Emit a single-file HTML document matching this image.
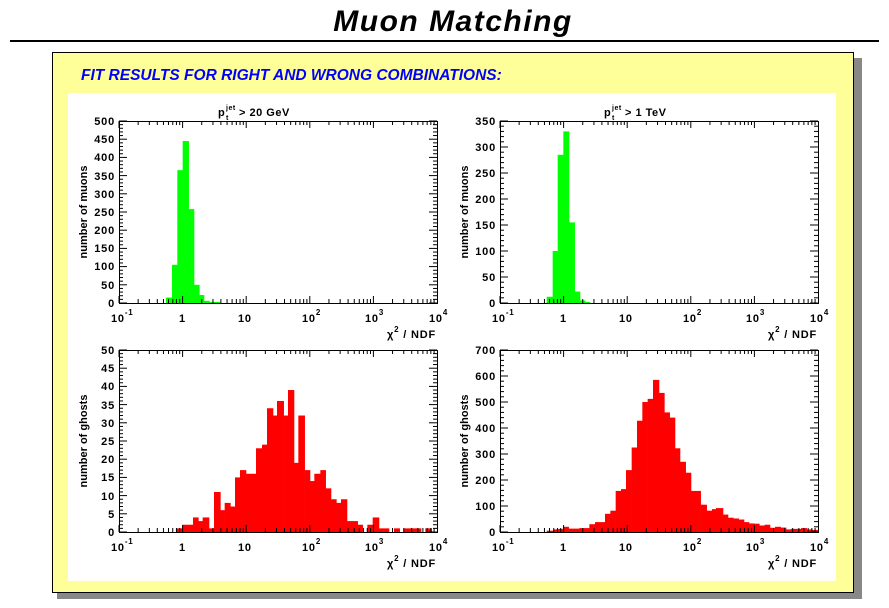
<!DOCTYPE html>
<html><head><meta charset="utf-8">
<style>
body{margin:0;width:889px;height:608px;background:#fff;overflow:hidden;font-family:"Liberation Sans",sans-serif}
svg{position:absolute;left:0;top:0}
</style></head><body>
<svg id="s" width="889" height="608" xmlns="http://www.w3.org/2000/svg" font-family="Liberation Sans, sans-serif" font-weight="bold">
<text x="453" y="31" text-anchor="middle" font-size="30" font-style="italic" letter-spacing="1.5">Muon Matching</text>
<rect x="10" y="40" width="869" height="2" fill="#000"/>
<rect x="57" y="58" width="805" height="541" fill="#888"/>
<rect x="52.5" y="52.5" width="801" height="540" fill="#ffff99" stroke="#000"/>
<text x="81" y="80" font-size="15.5" font-style="italic" fill="#0000ff">FIT RESULTS FOR RIGHT AND WRONG COMBINATIONS:</text>
<rect x="68" y="93" width="768" height="488" fill="#fff"/>
<g id="plots"></g>
<g font-size="11" text-anchor="end" letter-spacing="0.8">
<text x="115" y="125">500</text><text x="115" y="143">450</text><text x="115" y="161">400</text><text x="115" y="180">350</text><text x="115" y="198">300</text><text x="115" y="216">250</text><text x="115" y="234">200</text><text x="115" y="252">150</text><text x="115" y="270">100</text><text x="115" y="289">50</text><text x="115" y="307">0</text>
<text x="496" y="125">350</text><text x="496" y="151">300</text><text x="496" y="177">250</text><text x="496" y="203">200</text><text x="496" y="229">150</text><text x="496" y="255">100</text><text x="496" y="281">50</text><text x="496" y="307">0</text>
<text x="115" y="354">50</text><text x="115" y="372">45</text><text x="115" y="390">40</text><text x="115" y="409">35</text><text x="115" y="427">30</text><text x="115" y="445">25</text><text x="115" y="463">20</text><text x="115" y="481">15</text><text x="115" y="500">10</text><text x="115" y="518">5</text><text x="115" y="536">0</text>
<text x="496" y="354">700</text><text x="496" y="380">600</text><text x="496" y="406">500</text><text x="496" y="432">400</text><text x="496" y="458">300</text><text x="496" y="484">200</text><text x="496" y="510">100</text><text x="496" y="536">0</text>
</g>
<g font-size="11" letter-spacing="0.8">
<text x="111" y="322">10<tspan font-size="8" dy="-7">-1</tspan></text><text x="179" y="322">1</text><text x="238" y="322">10</text><text x="302" y="322">10<tspan font-size="8" dy="-7">2</tspan></text><text x="365" y="322">10<tspan font-size="8" dy="-7">3</tspan></text><text x="429" y="322">10<tspan font-size="8" dy="-7">4</tspan></text>
<text x="492" y="322">10<tspan font-size="8" dy="-7">-1</tspan></text><text x="560" y="322">1</text><text x="619" y="322">10</text><text x="683" y="322">10<tspan font-size="8" dy="-7">2</tspan></text><text x="746" y="322">10<tspan font-size="8" dy="-7">3</tspan></text><text x="810" y="322">10<tspan font-size="8" dy="-7">4</tspan></text>
<text x="111" y="551">10<tspan font-size="8" dy="-7">-1</tspan></text><text x="179" y="551">1</text><text x="238" y="551">10</text><text x="302" y="551">10<tspan font-size="8" dy="-7">2</tspan></text><text x="365" y="551">10<tspan font-size="8" dy="-7">3</tspan></text><text x="429" y="551">10<tspan font-size="8" dy="-7">4</tspan></text>
<text x="492" y="551">10<tspan font-size="8" dy="-7">-1</tspan></text><text x="560" y="551">1</text><text x="619" y="551">10</text><text x="683" y="551">10<tspan font-size="8" dy="-7">2</tspan></text><text x="746" y="551">10<tspan font-size="8" dy="-7">3</tspan></text><text x="810" y="551">10<tspan font-size="8" dy="-7">4</tspan></text>
<g text-anchor="end">
<text x="436" y="338">χ<tspan font-size="8" dy="-6">2</tspan><tspan dy="6"> / NDF</tspan></text>
<text x="817" y="338">χ<tspan font-size="8" dy="-6">2</tspan><tspan dy="6"> / NDF</tspan></text>
<text x="436" y="567">χ<tspan font-size="8" dy="-6">2</tspan><tspan dy="6"> / NDF</tspan></text>
<text x="817" y="567">χ<tspan font-size="8" dy="-6">2</tspan><tspan dy="6"> / NDF</tspan></text>
</g>
</g>
<g font-size="11" letter-spacing="0.5">
<text x="218" y="116">p</text><text x="226" y="110" font-size="7">jet</text><text x="226" y="120" font-size="7">t</text><text x="239" y="116">&gt; 20 GeV</text>
<text x="604" y="116">p</text><text x="612" y="110" font-size="7">jet</text><text x="612" y="120" font-size="7">t</text><text x="625" y="116">&gt; 1 TeV</text>
</g>
<g font-size="11">
<text transform="translate(87,212) rotate(-90)" text-anchor="middle">number of muons</text>
<text transform="translate(468,212) rotate(-90)" text-anchor="middle">number of muons</text>
<text transform="translate(87,441) rotate(-90)" text-anchor="middle">number of ghosts</text>
<text transform="translate(468,441) rotate(-90)" text-anchor="middle">number of ghosts</text>
</g>
</svg>
<script>
var NS="http://www.w3.org/2000/svg",G=document.getElementById("plots");
function el(t,a){var e=document.createElementNS(NS,t);for(var k in a)e.setAttribute(k,a[k]);G.appendChild(e);return e;}
function plot(x0,x1,y0,y1,ymax,ymaj,ymin,ox,oy,bars,col){
 var h=y1-y0;
 bars.forEach(function(b){var X=ox+b[0]/3,W=(b[1]-b[0])/3,H=b[2]/ymax*h;
  el("rect",{x:X,y:y1-H,width:W+0.3,height:H,fill:col});});
 el("rect",{x:x0+.5,y:y0+.5,width:x1-x0,height:h,fill:"none",stroke:"#000","stroke-width":1});
 var dec=(x1-x0)/5;
 for(var d=0;d<5;d++)for(var m=1;m<10;m++){var x=x0+dec*d+dec*Math.log10(m);var L=m==1?7:4;
  el("line",{x1:x,x2:x,y1:y1,y2:y1-L,stroke:"#000"});el("line",{x1:x,x2:x,y1:y0,y2:y0+L,stroke:"#000"});}
 for(var v=0;v<=ymax+1e-9;v+=ymin){var y=y1-v/ymax*h;var L=(Math.abs(v/ymaj-Math.round(v/ymaj))<1e-6)?8:4;
  el("line",{x1:x0,x2:x0+L,y1:y,y2:y,stroke:"#000"});el("line",{x1:x1,x2:x1-L,y1:y,y2:y,stroke:"#000"});}
}
plot(119,437,121,303,500,50,10,60,95,[[318,336,15],[336,352,105],[352,368,365],[368,386,445],[386,402,258],[402,418,50],[418,432,22],[432,448,6],[448,480,3]],"#00ff00");
plot(500,818,121,303,350,50,10,450,95,[[290,308,12],[308,323,100],[323,340,285],[340,357,330],[357,374,155],[374,390,22],[390,405,5],[405,420,2]],"#00ff00");
plot(119,437,350,532,50,5,1,60,340,[[350,367,1],[367,399,2],[399,415,4],[415,428,3],[428,447,4],[447,462,1],[462,481,11],[481,494,6],[494,511,8],[511,525,7],[525,540,15],[540,558,17],[558,588,16],[588,606,23],[606,621,24],[621,639,34],[639,651,32],[651,671,36],[671,684,32],[684,702,39],[702,715,19],[715,734,32],[734,750,17],[750,763,14],[763,781,16],[781,797,17],[797,813,12],[813,829,9],[829,843,8],[843,861,9],[861,893,3],[893,908,2],[922,938,2],[938,957,4],[957,987,1],[1002,1019,1],[1032,1083,1],[1096,1115,1]],"#ff0000");
plot(500,818,350,532,700,100,20,450,340,[[290,310,5],[310,325,10],[325,340,12],[340,356,20],[356,388,13],[388,418,15],[418,435,30],[435,465,38],[465,481,70],[481,497,82],[497,513,158],[513,528,165],[528,545,238],[545,561,325],[561,577,428],[577,593,500],[593,609,512],[609,627,585],[627,643,535],[643,659,460],[659,675,440],[675,690,322],[690,707,270],[707,723,228],[723,752,158],[752,770,105],[770,786,82],[786,798,88],[798,819,92],[819,834,67],[834,850,55],[850,866,52],[866,882,48],[882,897,38],[897,913,33],[913,928,32],[928,944,25],[944,960,28],[960,975,16],[975,992,20],[992,1008,17],[1008,1023,10],[1023,1040,12],[1040,1053,12],[1053,1070,15],[1070,1087,10],[1087,1103,8]],"#ff0000");
</script>
</body></html>
